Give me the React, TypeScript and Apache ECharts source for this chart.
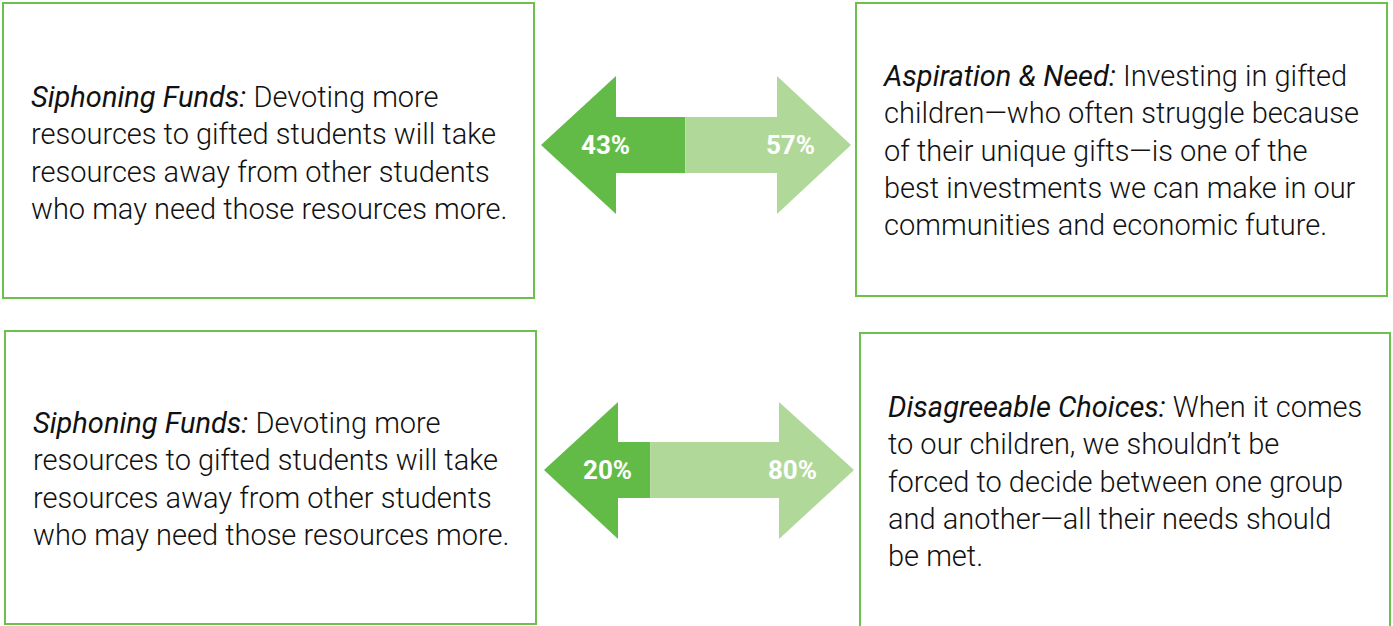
import React, { useEffect, useRef } from "react";
import * as echarts from "echarts";

const categories = ["Top pair", "Bottom pair"];
const leftShares = [43, 20];
const rightShares = [57, 80];
const leftTexts = [
  "{i|Siphoning Funds:} Devoting more\nresources to gifted students will take\nresources away from other students\nwho may need those resources more.",
  "{i|Siphoning Funds:} Devoting more\nresources to gifted students will take\nresources away from other students\nwho may need those resources more.",
];
const rightTexts = [
  "{i|Aspiration & Need:} Investing in gifted\nchildren\u2014who often struggle because\nof their unique gifts\u2014is one of the\nbest investments we can make in our\ncommunities and economic future.",
  "{i|Disagreeable Choices:} When it comes\nto our children, we shouldn\u2019t be\nforced to decide between one group\nand another\u2014all their needs should\nbe met.",
];

const DARK = "#63bb47";
const LIGHT = "#b0d899";
const BORDER = "#6cc04c";
const FONT = "Roboto";

export default function App() {
  const ref = useRef<HTMLDivElement>(null);
  useEffect(() => {
    if (!ref.current) return;
    const chart = echarts.init(ref.current, null, { renderer: "svg" });

    const grids = [
      { left: 616, top: 117, width: 161, height: 56 },
      { left: 618, top: 442, width: 161, height: 56 },
    ];
    const heads = [
      { cy: 145, top: 76, bottom: 214, lTip: 541, lBack: 616, rBack: 777, rTip: 851 },
      { cy: 470, top: 402, bottom: 539, lTip: 544, lBack: 618, rBack: 779, rTip: 854 },
    ];
    const boxes = [
      { x: 3, y: 3, w: 531, h: 295, tx: 31, ty: 97 },
      { x: 856, y: 3, w: 531, h: 293, tx: 884, ty: 76 },
      { x: 5, y: 331, w: 531, h: 293, tx: 33, ty: 423 },
      { x: 860, y: 333, w: 530, h: 300, tx: 888, ty: 407 },
    ];
    const LH = 37.3;
    const FS = 29;
    const texts = [leftTexts[0], rightTexts[0], leftTexts[1], rightTexts[1]];

    const graphic: any[] = [];
    boxes.forEach((b, i) => {
      graphic.push({
        type: "rect",
        shape: { x: b.x, y: b.y, width: b.w, height: b.h },
        style: { fill: "none", stroke: BORDER, lineWidth: 2 },
        z: 0,
      });
      graphic.push({
        type: "text",
        x: b.tx,
        y: b.ty - LH / 2,
        style: {
          text: texts[i],
          fill: "#111111",
          fontFamily: FONT,
          fontSize: FS,
          fontWeight: 300,
          lineHeight: LH,
          verticalAlign: "top",
          align: "left",
          rich: {
            i: {
              fontStyle: "italic",
              fontWeight: 400,
              fontFamily: FONT,
              fontSize: FS,
              lineHeight: LH,
              fill: "#111111",
            },
          },
        },
        z: 1,
      });
    });
    heads.forEach((h) => {
      graphic.push({
        type: "polygon",
        shape: { points: [[h.lTip, h.cy], [h.lBack, h.top], [h.lBack, h.bottom]] },
        style: { fill: DARK },
        z: 0,
      });
      graphic.push({
        type: "polygon",
        shape: { points: [[h.rTip, h.cy], [h.rBack, h.top], [h.rBack, h.bottom]] },
        style: { fill: LIGHT },
        z: 0,
      });
    });

    const labelStyle = {
      show: true,
      color: "#ffffff",
      fontFamily: FONT,
      fontWeight: 700,
      fontSize: 26,
    };

    const series: any[] = [];
    categories.forEach((c, i) => {
      series.push({
        type: "bar",
        name: c + " left",
        xAxisIndex: i,
        yAxisIndex: i,
        stack: "s" + i,
        barWidth: 56,
        data: [leftShares[i]],
        itemStyle: { color: DARK },
        label: {
          ...labelStyle,
          position: "insideLeft",
          offset: [-40, 0],
          formatter: "{c}%",
        },
        z: 3,
      });
      series.push({
        type: "bar",
        name: c + " right",
        xAxisIndex: i,
        yAxisIndex: i,
        stack: "s" + i,
        barWidth: 56,
        data: [rightShares[i]],
        itemStyle: { color: LIGHT },
        label: {
          ...labelStyle,
          position: "insideRight",
          offset: [43, 0],
          formatter: "{c}%",
        },
        z: 3,
      });
    });

    chart.setOption({
      animation: false,
      grid: grids.map((g) => ({ ...g, containLabel: false })),
      xAxis: grids.map((_, i) => ({ type: "value", gridIndex: i, min: 0, max: 100, show: false })),
      yAxis: grids.map((_, i) => ({ type: "category", gridIndex: i, data: [categories[i]], show: false })),
      series,
      graphic,
    });
    return () => chart.dispose();
  }, []);
  return (
    <div
      ref={ref}
      style={{ position: "absolute", left: 0, top: 0, width: 1393, height: 626, background: "#fff" }}
    />
  );
}
